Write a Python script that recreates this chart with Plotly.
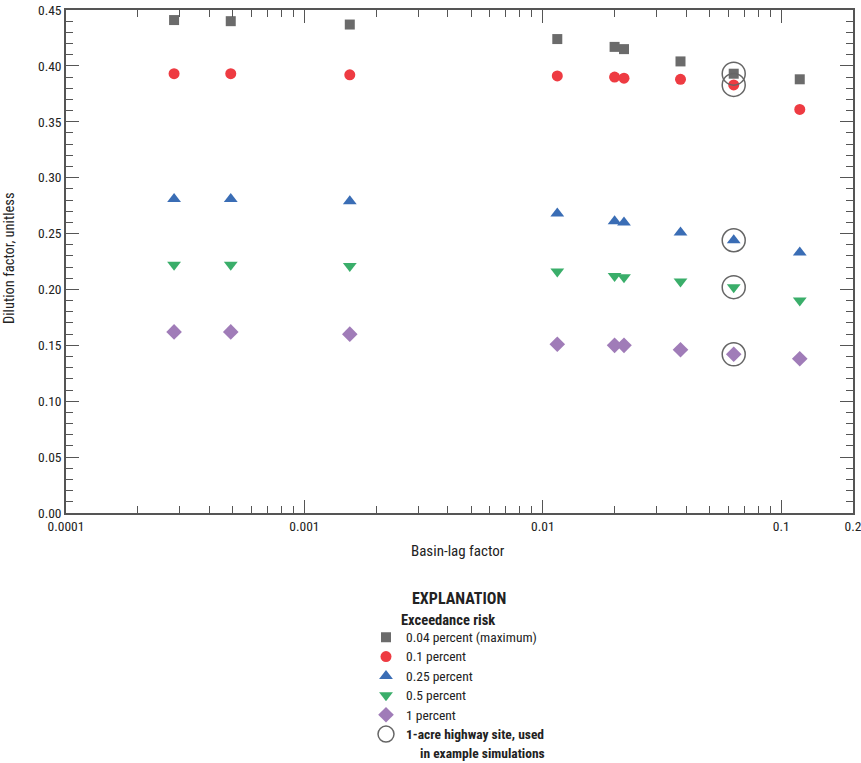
import plotly.graph_objects as go

basin_lag = [0.000284, 0.000491, 0.00155, 0.0115, 0.0200, 0.0219, 0.0378, 0.0632, 0.1196]
risk_004 = [0.441, 0.440, 0.437, 0.424, 0.417, 0.415, 0.404, 0.393, 0.388]
risk_01 = [0.393, 0.393, 0.392, 0.391, 0.390, 0.389, 0.388, 0.383, 0.361]
risk_025 = [0.281, 0.281, 0.279, 0.268, 0.261, 0.260, 0.251, 0.244, 0.233]
risk_05 = [0.222, 0.222, 0.221, 0.216, 0.212, 0.211, 0.207, 0.202, 0.190]
risk_1 = [0.162, 0.162, 0.160, 0.151, 0.150, 0.150, 0.146, 0.142, 0.138]

site_x = 0.0632
site_index = basin_lag.index(site_x)

series_names = ["0.04 percent (maximum)", "0.1 percent", "0.25 percent", "0.5 percent", "1 percent"]
series_values = [risk_004, risk_01, risk_025, risk_05, risk_1]
series_symbols = ["square", "circle", "triangle-up", "triangle-down", "diamond"]
series_colors = ["#6b6b6b", "#ee3b42", "#3a6db5", "#3aae6a", "#a07cb8"]
series_sizes = [10, 11, 12, 12, 12]

x_tickvals = [0.0001, 0.001, 0.01, 0.1, 0.2]
x_ticktext = ["0.0001", "0.001", "0.01", "0.1", "0.2"]

FONT = "Liberation Sans Narrow, Arial Narrow, Roboto Condensed, sans-serif"
AXIS = "#555555"

FIG_W, FIG_H = 861, 763
L, T, R, B = 66, 10, 8, 250

W_plot = FIG_W - L - R
H_plot = FIG_H - T - B
def px(xp):
    return (xp - L) / W_plot
def py(yp):
    return (FIG_H - B - yp) / H_plot

def leg_text(s):
    return "<span style='font-size:13.5px'>" + s + "</span>"

fig = go.Figure()
for name, vals, sym, col, sz in zip(series_names, series_values, series_symbols, series_colors, series_sizes):
    fig.add_trace(go.Scatter(
        x=basin_lag, y=vals, mode="markers", name=leg_text(name),
        marker=dict(symbol=sym, color=col, size=sz, line=dict(width=0)),
    ))

fig.add_trace(go.Scatter(
    x=[site_x] * len(series_values),
    y=[v[site_index] for v in series_values],
    mode="markers",
    name=leg_text("<b>1-acre highway site, used</b>"),
    marker=dict(symbol="circle-open", color="#666666", size=23, line=dict(width=1.5, color="#666666")),
))

minor_x = []
for d in [0.0001, 0.001, 0.01]:
    for m in range(2, 10):
        minor_x.append(d * m)

fig.update_layout(
    width=FIG_W, height=FIG_H,
    margin=dict(l=L, r=R, t=T, b=B, autoexpand=False),
    plot_bgcolor="white", paper_bgcolor="white",
    font=dict(family=FONT, size=13.5, color="#222222"),
    showlegend=True,
    legend=dict(
        x=px(366), y=py(622.5), xanchor="left", yanchor="top",
        font=dict(size=12.6), tracegroupgap=0, itemsizing="trace",
        bgcolor="rgba(0,0,0,0)",
    ),
    xaxis=dict(
        type="log", range=[-4, -0.69897],
        tickmode="array", tickvals=x_tickvals, ticktext=x_ticktext,
        ticks="inside", ticklen=13, tickcolor=AXIS, tickwidth=1,
        showline=True, linecolor=AXIS, linewidth=1.5, mirror="ticks",
        showgrid=False, zeroline=False, ticklabeloverflow="allow",
        minor=dict(ticks="inside", ticklen=7, tickcolor=AXIS, tickmode="array", tickvals=minor_x, showgrid=False),
        tickfont=dict(size=13.5),
    ),
    yaxis=dict(
        range=[0, 0.45], tickmode="linear", tick0=0, dtick=0.05, tickformat=".2f",
        ticks="inside", ticklen=13, tickcolor=AXIS, tickwidth=1,
        showline=True, linecolor=AXIS, linewidth=1.5, mirror="ticks",
        showgrid=False, zeroline=False, ticklabeloverflow="allow",
        minor=dict(ticks="inside", ticklen=7, tickcolor=AXIS, dtick=0.01, showgrid=False),
        tickfont=dict(size=13.5),
    ),
    annotations=[
        dict(text="Basin-lag factor", x=px(458), y=py(551), xref="paper", yref="paper",
             xanchor="center", yanchor="middle", showarrow=False, font=dict(size=15)),
        dict(text="Dilution factor, unitless", textangle=-90, x=px(9), y=py(258),
             xref="paper", yref="paper", xanchor="center", yanchor="middle",
             showarrow=False, font=dict(size=14.5)),
        dict(text="<b>EXPLANATION</b>", x=px(459), y=py(598), xref="paper", yref="paper",
             xanchor="center", yanchor="middle", showarrow=False, font=dict(size=16)),
        dict(text="<b>Exceedance risk</b>", x=px(399), y=py(620), xref="paper", yref="paper",
             xanchor="left", yanchor="middle", showarrow=False, font=dict(size=14.5)),
        dict(text="<b>in example simulations</b>", x=px(418), y=py(753), xref="paper", yref="paper",
             xanchor="left", yanchor="middle", showarrow=False, font=dict(size=13.5)),
    ],
)

fig.write_html("out.html", config={"displayModeBar": False},
               post_script="document.body.style.margin='0px';")
